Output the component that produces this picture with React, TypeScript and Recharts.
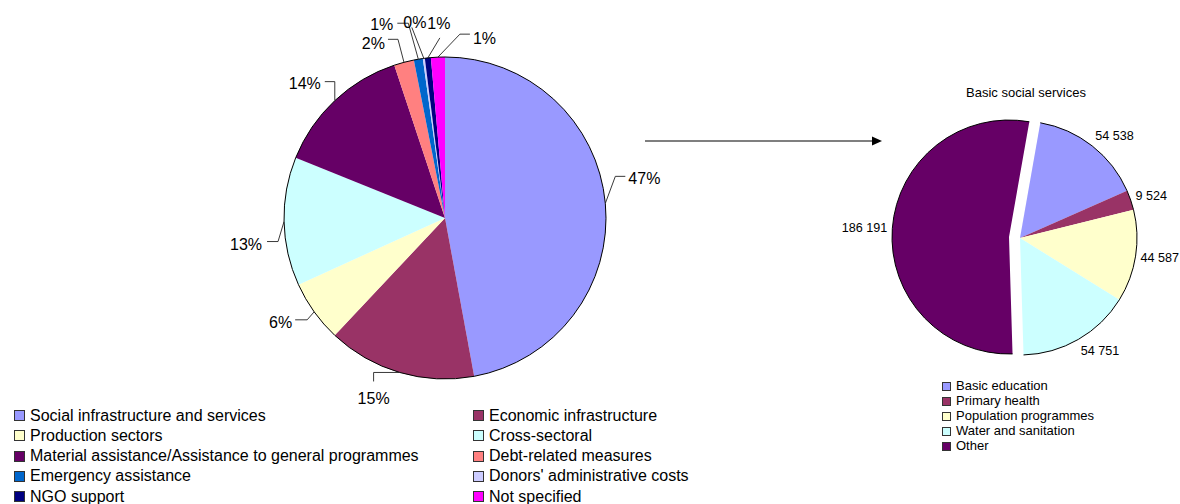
import React from 'react';
import { PieChart, Pie, Cell } from 'recharts';

// ---------- data ----------
const sectorNames = [
  'Social infrastructure and services',
  'Economic infrastructure',
  'Production sectors',
  'Cross-sectoral',
  'Material assistance/Assistance to general programmes',
  'Debt-related measures',
  'Emergency assistance',
  "Donors' administrative costs",
  'NGO support',
  'Not specified',
];
const sectorShares = [47.1, 14.9, 6.2, 12.9, 13.8, 2.0, 0.9, 0.2, 0.6, 1.4];
const sectorColors = [
  '#9999FF', '#993366', '#FFFFCC', '#CCFFFF', '#660066',
  '#FF8080', '#0066CC', '#CCCCFF', '#000080', '#FF00FF',
];

const bssTitle = 'Basic social services';
const bssNames = ['Basic education', 'Primary health', 'Population programmes', 'Water and sanitation', 'Other'];
const bssValues = [54538, 9524, 44587, 54751, 186191];
const bssColors = ['#9999FF', '#993366', '#FFFFCC', '#CCFFFF', '#660066'];

// ---------- layout ----------
const FONT = '"Liberation Sans", Arial, Helvetica, sans-serif';
const RAD = Math.PI / 180;

const leftLabelLayout = [
  { ex: 10, ey: -27, hx: 10, hy: 0, tx: 3, ty: 2, anchor: 'start' },
  { ex: -26, ey: 0, hx: 0, hy: 9, tx: 0, ty: 17, anchor: 'middle' },
  { ex: -7, ey: 8, hx: -12, hy: 0, tx: -3, ty: 3, anchor: 'end' },
  { ex: -6, ey: 20, hx: -11, hy: 0, tx: -5, ty: 3, anchor: 'end' },
  { ex: 0, ey: -19, hx: -10, hy: 0, tx: -4, ty: 2, anchor: 'end' },
  { ex: -6, ey: -23, hx: -10, hy: 0, tx: -3, ty: 4, anchor: 'end' },
  { ex: -10, ey: -36, hx: -11, hy: 0, tx: -4, ty: 1, anchor: 'end' },
  { ex: -12, ey: -31, hx: 0, hy: 0, tx: 3, ty: -5, anchor: 'middle' },
  { ex: 12, ey: -20, hx: 0, hy: 0, tx: -1, ty: -14, anchor: 'middle' },
  { ex: 22, ey: -23, hx: 10, hy: 0, tx: 3, ty: 4, anchor: 'start' },
];

const sectorData = sectorNames.map((name, i) => ({ name, value: sectorShares[i] }));
const bssData = bssNames.map((name, i) => ({ name, value: bssValues[i] }));
const OTHER = bssNames.length - 1;

function arcPath(cx: number, cy: number, r: number, a1: number, a2: number) {
  const x1 = cx + r * Math.cos(-a1 * RAD);
  const y1 = cy + r * Math.sin(-a1 * RAD);
  const x2 = cx + r * Math.cos(-a2 * RAD);
  const y2 = cy + r * Math.sin(-a2 * RAD);
  const large = Math.abs(a1 - a2) > 180 ? 1 : 0;
  const sweep = a2 < a1 ? 1 : 0;
  return `M${x1},${y1} A${r},${r} 0 ${large} ${sweep} ${x2},${y2}`;
}

const fmt = (v: number) => String(v).replace(/\B(?=(\d{3})+(?!\d))/g, ' ');

const renderLeftLabel = (p: any) => {
  const { cx, cy, outerRadius: r, startAngle, endAngle, midAngle, index, percent } = p;
  const L = leftLabelLayout[index];
  const px = cx + r * Math.cos(-midAngle * RAD);
  const py = cy + r * Math.sin(-midAngle * RAD);
  const exx = px + L.ex;
  const eyy = py + L.ey;
  const fx = exx + L.hx;
  const fy = eyy + L.hy;
  return (
    <g key={`ll-${index}`}>
      <path d={arcPath(cx, cy, r, startAngle, endAngle)} fill="none" stroke="#000" strokeWidth={1} />
      <polyline points={`${px},${py} ${exx},${eyy} ${fx},${fy}`} fill="none" stroke="#222" strokeWidth={0.9} />
      <text
        x={fx + L.tx}
        y={fy + L.ty}
        textAnchor={L.anchor}
        dominantBaseline="central"
        fontFamily={FONT}
        fontSize={16}
        fill="#000"
      >
        {`${Math.round(percent * 100)}%`}
      </text>
    </g>
  );
};

const makeRightLabel = (show: (i: number) => boolean) => (p: any) => {
  const { cx, cy, outerRadius: r, startAngle, endAngle, midAngle, index, value } = p;
  if (!show(index)) return <g key={`rl-${index}`} />;
  const lr = r + 5;
  const c = Math.cos(-midAngle * RAD);
  const s = Math.sin(-midAngle * RAD);
  const x = cx + lr * c;
  const y = cy + lr * s + s * 8;
  const anchor = c > 0.3 ? 'start' : c < -0.3 ? 'end' : 'middle';
  return (
    <g key={`rl-${index}`}>
      <path d={arcPath(cx, cy, r, startAngle, endAngle)} fill="none" stroke="#000" strokeWidth={1} />
      <text
        x={x}
        y={y}
        textAnchor={anchor}
        dominantBaseline="central"
        fontFamily={FONT}
        fontSize={12.6}
        fill="#000"
      >
        {fmt(value)}
      </text>
    </g>
  );
};

const rightMainLabel = makeRightLabel((i) => i !== OTHER);
const rightOtherLabel = makeRightLabel((i) => i === OTHER);

export default function App() {
  return (
    <div style={{ position: 'absolute', left: 0, top: 0, width: 1180, height: 504, background: '#fff', fontFamily: FONT }}>
      <PieChart width={1180} height={504} margin={{ top: 0, right: 0, bottom: 0, left: 0 }}>
        <Pie
          data={sectorData}
          dataKey="value"
          nameKey="name"
          cx={445}
          cy={218}
          outerRadius={161}
          startAngle={90}
          endAngle={-270}
          stroke="none"
          isAnimationActive={false}
          label={renderLeftLabel}
          labelLine={false}
        >
          {sectorData.map((d, i) => (
            <Cell key={d.name} fill={sectorColors[i]} />
          ))}
        </Pie>
        <Pie
          data={bssData}
          dataKey="value"
          nameKey="name"
          cx={1020}
          cy={238}
          outerRadius={117}
          startAngle={80}
          endAngle={-280}
          stroke="none"
          isAnimationActive={false}
          label={rightMainLabel}
          labelLine={false}
        >
          {bssData.map((d, i) => (
            <Cell key={d.name} fill={i === OTHER ? 'none' : bssColors[i]} />
          ))}
        </Pie>
        <Pie
          data={bssData}
          dataKey="value"
          nameKey="name"
          cx={1009}
          cy={237}
          outerRadius={117}
          startAngle={80}
          endAngle={-280}
          stroke="none"
          isAnimationActive={false}
          label={rightOtherLabel}
          labelLine={false}
        >
          {bssData.map((d, i) => (
            <Cell key={d.name} fill={i === OTHER ? bssColors[i] : 'none'} />
          ))}
        </Pie>
      </PieChart>

      {/* arrow */}
      <svg width={1180} height={504} style={{ position: 'absolute', left: 0, top: 0, pointerEvents: 'none' }}>
        <line x1={645} y1={141} x2={873} y2={141} stroke="#7f7f7f" strokeWidth={2} />
        <polygon points="872,136.5 882,141 872,145.5" fill="#000" />
      </svg>

      {/* title */}
      <div
        style={{
          position: 'absolute',
          left: 926,
          width: 200,
          top: 85,
          textAlign: 'center',
          fontSize: 13,
          lineHeight: '16px',
          color: '#000',
        }}
      >
        {bssTitle}
      </div>

      {/* left legend */}
      {sectorNames.map((name, i) => {
        const row = Math.floor(i / 2);
        const col = i % 2;
        const left = col === 0 ? 14 : 473;
        const cyc = 415.7 + row * 20.25;
        return (
          <div key={name} style={{ position: 'absolute', left, top: cyc - 10, height: 20, display: 'flex', alignItems: 'center' }}>
            <div style={{ width: 9, height: 9, background: sectorColors[i], border: '1px solid #333', marginRight: 5 }} />
            <span style={{ fontSize: 16, lineHeight: '20px', color: '#000', whiteSpace: 'nowrap' }}>{name}</span>
          </div>
        );
      })}

      {/* right legend */}
      {bssNames.map((name, i) => {
        const cyc = 386 + i * 15.1;
        return (
          <div key={name} style={{ position: 'absolute', left: 942, top: cyc - 8, height: 16, display: 'flex', alignItems: 'center' }}>
            <div style={{ width: 7, height: 7, background: bssColors[i], border: '1px solid #333', marginRight: 5 }} />
            <span style={{ fontSize: 13, lineHeight: '16px', color: '#000', whiteSpace: 'nowrap' }}>{name}</span>
          </div>
        );
      })}
    </div>
  );
}
